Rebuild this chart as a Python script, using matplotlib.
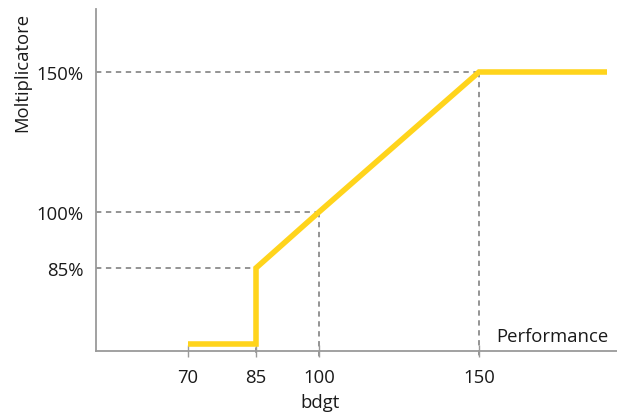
import numpy as np
import matplotlib
matplotlib.use("Agg")
import matplotlib.pyplot as plt

# Data
x_vals = [70, 85, 85, 100, 150, 190]
y_vals = [0, 0, 85, 100, 150, 150]
x_ticks = [70, 85, 100, 150]
x_tick_labels = ["70", "85", "100", "150"]
y_ticks = [85, 100, 150]
y_tick_labels = ["85%", "100%", "150%"]
ref_points_x = [85, 100, 150]
ref_points_y = [85, 100, 150]

plt.rcParams['font.family'] = ['Open Sans', 'DejaVu Sans']
FS = 13.3
YELLOW = '#FFD41C'
GRAY = '#9a9a9a'
DGRAY = '#777777'
TXT = '#1a1a1a'

# piecewise-linear scales (matching the uneven spacing of the reference)
xd = np.array([-1000, 70, 85, 100, 150, 1000], float)
xp = np.array([188 - 1070 * 4.5, 188, 256, 319, 479, 479 + 850 * 3.2], float)
yd = np.array([-1000, 0, 85, 100, 150, 1000], float)
yp = -np.array([345 + 1000 * 0.894, 345, 269, 213, 73, 73 - 850 * 2.8], float)

def xf(v): return np.interp(v, xd, xp)
def xi(v): return np.interp(v, xp, xd)
def yf(v): return np.interp(v, yd, yp)
def yi(v): return np.interp(v, yp, yd)

W, H = 617, 414
fig = plt.figure(figsize=(W / 100, H / 100), dpi=100)
ax = fig.add_axes([96 / W, (H - 352) / H, (W - 96) / W, (352 - 10) / H])
ax.set_xscale('function', functions=(xf, xi))
ax.set_yscale('function', functions=(yf, yi))
ax.set_xlim(xi(96), xi(617))
ax.set_ylim(yi(-352), yi(-10))

# dashed reference lines
xmin = ax.get_xlim()[0]
for px, py in zip(ref_points_x, ref_points_y):
    ax.plot([xmin, px], [py, py], ls=(0, (3.5, 3)), color=DGRAY, lw=1.1, zorder=1)
    ax.plot([px, px], [py, yi(-358)], ls=(0, (3.5, 3)), color=DGRAY, lw=1.1,
            zorder=1, clip_on=False)

ax.plot(x_vals, y_vals, color=YELLOW, lw=4.0, solid_joinstyle='miter',
        solid_capstyle='butt', zorder=3)

for s in ['top', 'right']:
    ax.spines[s].set_visible(False)
for s in ['left', 'bottom']:
    ax.spines[s].set_color(GRAY)
    ax.spines[s].set_linewidth(1.3)

ax.set_xticks(x_ticks)
ax.set_xticklabels(x_tick_labels)
ax.set_yticks(y_ticks)
ax.set_yticklabels(y_tick_labels)
ax.minorticks_off()
ax.tick_params(axis='x', direction='inout', length=8, width=1, color=GRAY,
               labelsize=FS, labelcolor=TXT, pad=8)
ax.tick_params(axis='y', length=0, labelsize=FS, labelcolor=TXT, pad=9)

fig.text(608 / W, (H - 337) / H, "Performance", ha='right', va='center',
         fontsize=FS, color=TXT)
fig.text(22 / W, (H - 72) / H, "Moltiplicatore", rotation=90, ha='center',
         va='center', fontsize=FS, color=TXT)
fig.text(320 / W, (H - 403) / H, "bdgt", ha='center', va='center',
         fontsize=FS, color=TXT)

fig.savefig("out.png", dpi=100)
